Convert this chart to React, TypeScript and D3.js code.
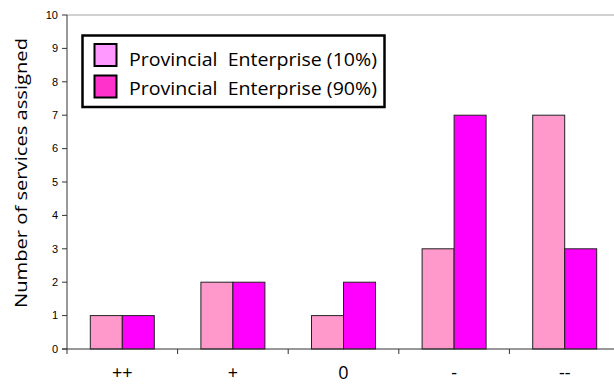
import React from "react";
import * as d3 from "d3";

const categories = ["++", "+", "0", "-", "--"];
const series10 = [1, 2, 1, 3, 7];
const series90 = [1, 2, 2, 7, 3];
const seriesNames = ["Provincial  Enterprise (10%)", "Provincial  Enterprise (90%)"];
const yTicks = [0, 1, 2, 3, 4, 5, 6, 7, 8, 9, 10];

const W = 614;
const H = 384;
const left = 67;
const catW = 110.6;
const top = 15;
const bottom = 349;

export default function App() {
  const x = d3
    .scaleBand<string>()
    .domain(categories)
    .range([left, left + catW * categories.length])
    .paddingInner(0)
    .paddingOuter(0);
  const y = d3.scaleLinear().domain([0, 10]).range([bottom, top]);
  const barW = 32;
  const fills = ["#FF99CC", "#FF00FF"];
  const legendFills = ["#FF99FF", "#FF33CC"];
  const data = [series10, series90];

  return (
    <svg
      width={W}
      height={H}
      style={{ position: "absolute", left: 0, top: 0, background: "#fff" }}
    >
      {/* plot border top */}
      <line x1={left} x2={W} y1={top} y2={top} stroke="#c0c0c0" strokeWidth={1.5} />
      {/* y axis */}
      <line x1={left} x2={left} y1={top} y2={bottom} stroke="#333" strokeWidth={1} />
      {yTicks.map((t) => (
        <g key={t}>
          <line x1={left - 5} x2={left} y1={y(t)} y2={y(t)} stroke="#333" />
          <text
            x={left - 9}
            y={y(t)}
            dy="0.35em"
            textAnchor="end"
            fontFamily="Liberation Sans, Arial, sans-serif"
            fontSize={11}
            fill="#000"
          >
            {t}
          </text>
        </g>
      ))}
      {/* bars */}
      {categories.map((c, i) =>
        data.map((s, k) => {
          const cx = (x(c) as number) + x.bandwidth() / 2;
          const bx = cx - barW + k * barW;
          return (
            <rect
              key={c + k}
              x={bx}
              y={y(s[i])}
              width={barW}
              height={y(0) - y(s[i])}
              fill={fills[k]}
              stroke="#222"
              strokeWidth={1}
            />
          );
        })
      )}
      {/* x axis */}
      <line x1={left - 5} x2={W} y1={bottom} y2={bottom} stroke="#333" strokeWidth={1} />
      {categories.map((c, i) => (
        <line
          key={"t" + i}
          x1={x(c) as number}
          x2={x(c) as number}
          y1={bottom}
          y2={bottom + 5}
          stroke="#333"
        />
      ))}
      {categories.map((c) => (
        <text
          key={"l" + c}
          x={(x(c) as number) + x.bandwidth() / 2}
          y={379}
          textAnchor="middle"
          fontFamily="Open Sans, sans-serif"
          fontSize={18}
          fill="#000"
        >
          {c}
        </text>
      ))}
      {/* y label */}
      <text
        transform={`translate(27,${173}) rotate(-90)`}
        textAnchor="middle"
        fontFamily="Open Sans, sans-serif"
        fontSize={17}
        textLength={270}
        lengthAdjust="spacingAndGlyphs"
        fill="#000"
      >
        Number of services assigned
      </text>
      {/* legend */}
      <rect x={82.5} y={35.5} width={302} height={71.5} fill="#fff" stroke="#000" strokeWidth={2.5} />
      {seriesNames.map((n, k) => (
        <g key={n}>
          <rect
            x={94.5}
            y={44 + k * 31.5}
            width={22}
            height={22}
            fill={legendFills[k]}
            stroke="#000"
            strokeWidth={2}
          />
          <text
            x={129}
            y={66 + k * 29}
            fontFamily="Open Sans, sans-serif"
            fontSize={18}
            textLength={248}
            lengthAdjust="spacingAndGlyphs"
            style={{ whiteSpace: "pre" }}
            fill="#000"
          >
            {n}
          </text>
        </g>
      ))}
    </svg>
  );
}
